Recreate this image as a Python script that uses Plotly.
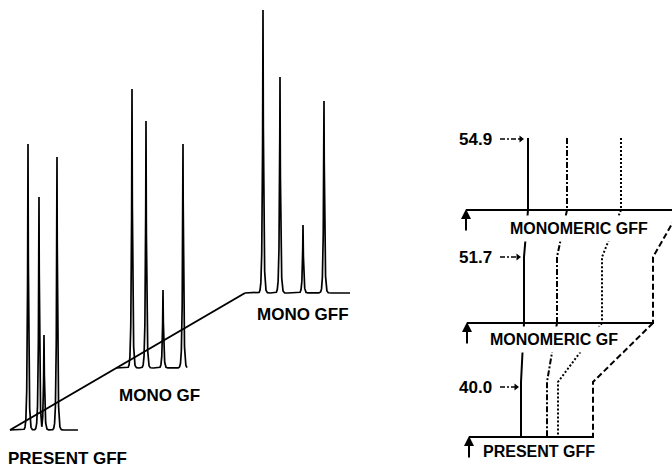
import numpy as np
import plotly.graph_objects as go

# ---------------- data ----------------
# Left panel: three chromatograms drawn as a pseudo-3D stack
chrom_names = ["PRESENT GFF", "MONO GF", "MONO GFF"]
# peak retention (along each trace baseline) and peak heights
present_ret = [18, 29, 34, 47]
present_h = [286, 233, 95, 273]
monogf_ret = [16, 30, 47, 67]
monogf_h = [279, 247, 78, 224]
monogff_ret = [18, 35, 58, 79]
monogff_h = [283, 216, 68, 192]
run_length = [68, 71, 105]

# Right panel: schematic of peak positions at three levels
levels = ["MONOMERIC GFF", "MONOMERIC GF", "PRESENT GFF"]
level_values = ["54.9", "51.7", "40.0"]
top_pos = [528, 567, 621, 680]
mid_pos = [524, 557, 602, 653]
bot_pos = [521, 547, 558, 593]

# ---------------- layout / style ----------------
W, H = 672, 467
origin_x = [10, 116, 245]
origin_y = [430, 368, 293]
peak_width = 0.65
FONT = "Liberation Sans, Arial, sans-serif"
styles = [None, "6px,2px,2px,2px", "2px,2px", "6px,3px"]

fig = go.Figure()

rets = [present_ret, monogf_ret, monogff_ret]
hts = [present_h, monogf_h, monogff_h]
for k in range(3):
    xs = np.arange(0, run_length[k] + 0.001, 0.05)
    sig = np.zeros_like(xs)
    for r, h in zip(rets[k], hts[k]):
        sig = np.maximum(sig, h * np.exp(-np.abs(xs - r) / peak_width))
    fig.add_trace(go.Scatter(x=origin_x[k] + xs, y=origin_y[k] - sig, mode="lines",
                             line=dict(color="black", width=1.7), hoverinfo="skip"))

# diagonal (time / stacking axis) through baseline starts
fig.add_trace(go.Scatter(x=[origin_x[0], origin_x[2]], y=[origin_y[0], origin_y[2]], mode="lines",
                         line=dict(color="black", width=2), hoverinfo="skip"))

left_label_pos = [(6, 458), (117, 395), (255, 314)]
for name, (lx, ly) in zip(chrom_names, left_label_pos):
    fig.add_annotation(x=lx, y=ly, text="<b>%s</b>" % name, showarrow=False,
                       xanchor="left", yanchor="middle",
                       font=dict(family=FONT, size=17, color="black"))

# ---------------- right panel ----------------
base_y = [210, 323, 437]
base_x0 = [466, 467, 469]
base_x1 = [700, mid_pos[-1] + 1, bot_pos[-1] + 1]
top_y = 138
bend_y = [257, 382]

for i in range(3):
    fig.add_trace(go.Scatter(x=[base_x0[i], base_x1[i]], y=[base_y[i], base_y[i]], mode="lines",
                             line=dict(color="black", width=2), hoverinfo="skip"))
    fig.add_annotation(x=base_x0[i], y=base_y[i] - 1, ax=base_x0[i], ay=base_y[i] + 22,
                       xref="x", yref="y", axref="x", ayref="y", text="",
                       showarrow=True, arrowhead=2, arrowsize=1, arrowwidth=2, arrowcolor="black")

for j in range(4):
    dash = styles[j] if styles[j] else "solid"
    lw = 2
    fig.add_trace(go.Scatter(x=[top_pos[j], top_pos[j]], y=[top_y, base_y[0]], mode="lines",
                             line=dict(color="black", width=lw, dash=dash), hoverinfo="skip"))
    fig.add_trace(go.Scatter(x=[top_pos[j], mid_pos[j], mid_pos[j]],
                             y=[base_y[0], bend_y[0], base_y[1]], mode="lines",
                             line=dict(color="black", width=lw, dash=dash), hoverinfo="skip"))
    fig.add_trace(go.Scatter(x=[mid_pos[j], bot_pos[j], bot_pos[j]],
                             y=[base_y[1], bend_y[1], base_y[2]], mode="lines",
                             line=dict(color="black", width=lw, dash=dash), hoverinfo="skip"))

# level labels over the lines
level_label_pos = [(579, 228, "center"), (554, 339, "center"), (478, 451, "left")]
for name, (lx, ly, anc) in zip(levels, level_label_pos):
    fig.add_annotation(x=lx, y=ly, text="<b>%s</b>" % name, showarrow=False,
                       xanchor=anc, yanchor="middle", bgcolor="white" if anc == "center" else None,
                       borderpad=4, font=dict(family=FONT, size=16, color="black"))

# value markers with arrows
value_y = [top_y + 1, bend_y[0], 387]
value_tip = [top_pos[0] - 4, mid_pos[0] - 3, bot_pos[0] - 2]
for v, vy, tip in zip(level_values, value_y, value_tip):
    fig.add_annotation(x=494, y=vy, text="<b>%s</b>" % v, showarrow=False,
                       xanchor="right", yanchor="middle",
                       font=dict(family=FONT, size=17, color="black"))
    fig.add_trace(go.Scatter(x=[500, tip - 3], y=[vy, vy], mode="lines",
                             line=dict(color="black", width=1.4, dash="5px,2px,2px,2px"),
                             hoverinfo="skip"))
    fig.add_trace(go.Scatter(x=[tip - 3], y=[vy], mode="markers",
                             marker=dict(symbol="triangle-right", size=6, color="black"),
                             hoverinfo="skip"))

fig.update_layout(width=W, height=H, margin=dict(l=0, r=0, t=0, b=0),
                  paper_bgcolor="white", plot_bgcolor="white", showlegend=False,
                  hovermode=False)
fig.update_xaxes(range=[0, W], visible=False, fixedrange=True)
fig.update_yaxes(range=[H, 0], visible=False, fixedrange=True)

fig.write_html("out.html", config={"displayModeBar": False})
